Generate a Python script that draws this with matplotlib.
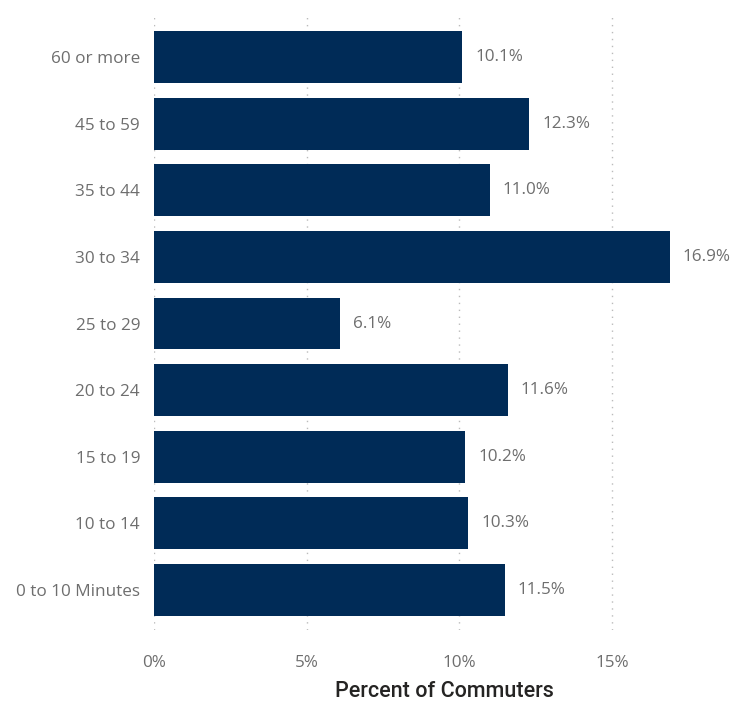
import numpy as np
import matplotlib.pyplot as plt
from matplotlib.ticker import FuncFormatter

categories = ['0 to 10 Minutes', '10 to 14', '15 to 19', '20 to 24', '25 to 29',
              '30 to 34', '35 to 44', '45 to 59', '60 or more']
percent = [11.5, 10.3, 10.2, 11.6, 6.1, 16.9, 11.0, 12.3, 10.1]
xticks = [0, 5, 10, 15]

bar_color = '#002B57'
label_gray = '#6e6e6e'

fig = plt.figure(figsize=(7.34, 7.02), dpi=100)
ax = fig.add_axes([154 / 734, 72 / 702, 580 / 734, 613 / 702])

y = np.arange(len(categories))
ax.barh(y, percent, height=0.78, color=bar_color, zorder=3)

for yi, v in zip(y, percent):
    ax.text(v + 0.42, yi, f'{v:.1f}%', va='center', ha='left',
            fontsize=12.3, color=label_gray, family='Open Sans')

ax.set_xlim(0, 19)
ax.set_ylim(-0.6, len(categories) - 0.4)
ax.set_yticks(y)
ax.set_yticklabels(categories, family='Open Sans', fontsize=12.3, color=label_gray)
ax.set_xticks(xticks)
ax.xaxis.set_major_formatter(FuncFormatter(lambda v, p: f'{v:.0f}%'))
for lbl in ax.get_xticklabels():
    lbl.set_family('Open Sans')
    lbl.set_fontsize(12.3)
    lbl.set_color(label_gray)

ax.grid(axis='x', linestyle=(0, (1, 4)), color='#bbbbbb', linewidth=1, zorder=0)
ax.tick_params(length=0, pad=10)
ax.tick_params(axis='x', pad=18)
for s in ax.spines.values():
    s.set_visible(False)

ax.set_xlabel('Percent of Commuters', family='Roboto', fontweight='medium',
              fontsize=15.5, color='#252423', labelpad=7)

fig.savefig('out.png', dpi=100)
